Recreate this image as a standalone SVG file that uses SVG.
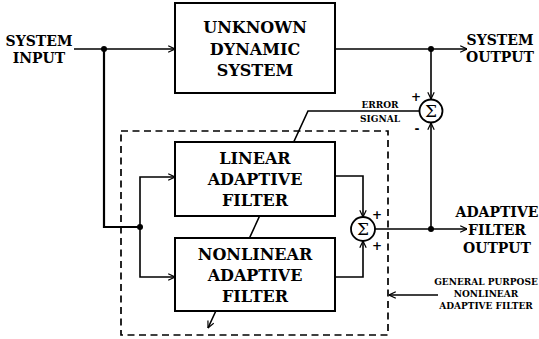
<svg xmlns="http://www.w3.org/2000/svg" width="539" height="339" viewBox="0 0 539 339">
<style>
.box{fill:#fff;stroke:#000;stroke-width:2}
.ln{fill:none;stroke:#000;stroke-width:1.6}
.thk{fill:none;stroke:#000;stroke-width:2.2}
.t{font-family:"DejaVu Serif",serif;font-weight:bold;fill:#000;text-anchor:middle}
.b16{font-size:16px}
.b14{font-size:14px}
.s9{font-size:9px}
.sig{font-family:"DejaVu Serif",serif;font-size:17px;fill:#000;text-anchor:middle}
.pm{font-family:"DejaVu Sans",sans-serif;font-weight:bold;font-size:12px;fill:#000;text-anchor:middle}
.dash{fill:none;stroke:#000;stroke-width:1.7;stroke-dasharray:7 4.5}
</style>
<defs>
<marker id="ar" viewBox="0 0 10 10" refX="9.5" refY="5" markerWidth="8" markerHeight="8" markerUnits="userSpaceOnUse" orient="auto">
<path d="M1,1 L9.5,5 L1,9" fill="none" stroke="#000" stroke-width="1.5"/>
</marker>
</defs>
<rect class="dash" x="121" y="131" width="267" height="204"/>
<g id="connectors">
<path class="ln" d="M74,49 H175" marker-end="url(#ar)"/>
<path class="thk" d="M104,49 V227 H140"/>
<path class="ln" d="M140,227 V177 H175" marker-end="url(#ar)"/>
<path class="ln" d="M140,227 V277 H175" marker-end="url(#ar)"/>
<path class="ln" d="M335,49 H467" marker-end="url(#ar)"/>
<path class="ln" d="M431,49 V99" marker-end="url(#ar)"/>
<path class="ln" d="M431,229 V123" marker-end="url(#ar)"/>
<path class="ln" d="M419,111 H308 L208,328" marker-end="url(#ar)"/>
<path class="ln" d="M335,176 H363 V217" marker-end="url(#ar)"/>
<path class="ln" d="M335,277 H363 V241" marker-end="url(#ar)"/>
<path class="ln" d="M375,229 H467" marker-end="url(#ar)"/>
<path class="ln" d="M438,295 H389" marker-end="url(#ar)"/>
<circle cx="104" cy="49" r="3"/>
<circle cx="140" cy="227" r="3"/>
<circle cx="431" cy="49" r="3"/>
<circle cx="431" cy="229" r="3"/>
</g>
<g id="unknown">
<rect class="box" x="175" y="3" width="160" height="90"/>
<text class="t b16" x="255" y="33">UNKNOWN</text>
<text class="t b16" x="255" y="55">DYNAMIC</text>
<text class="t b16" x="255" y="76">SYSTEM</text>
</g>
<g id="linear">
<rect class="box" x="175" y="142" width="160" height="74"/>
<text class="t b16" x="255" y="164">LINEAR</text>
<text class="t b16" x="255" y="185">ADAPTIVE</text>
<text class="t b16" x="255" y="206">FILTER</text>
</g>
<g id="nonlinear">
<rect class="box" x="175" y="238" width="160" height="73"/>
<text class="t b16" x="255" y="260">NONLINEAR</text>
<text class="t b16" x="255" y="281">ADAPTIVE</text>
<text class="t b16" x="255" y="302">FILTER</text>
</g>
<g id="sum1">
<circle cx="431" cy="111" r="11.5" fill="#fff" stroke="#000" stroke-width="1.8"/>
<text class="sig" x="431" y="117">Σ</text>
<text class="pm" x="416" y="101">+</text>
<text class="pm" x="417" y="133">-</text>
</g>
<g id="sum2">
<circle cx="363" cy="229" r="12" fill="#fff" stroke="#000" stroke-width="1.8"/>
<text class="sig" x="363" y="235">Σ</text>
<text class="pm" x="377" y="219">+</text>
<text class="pm" x="377" y="250">+</text>
</g>
<g id="labels">
<text class="t b14" x="39" y="46">SYSTEM</text>
<text class="t b14" x="39" y="63">INPUT</text>
<text class="t b14" x="500" y="45">SYSTEM</text>
<text class="t b14" x="500" y="62">OUTPUT</text>
<text class="t s9" x="380" y="108">ERROR</text>
<text class="t s9" x="380" y="122">SIGNAL</text>
<text class="t b14" x="497" y="217">ADAPTIVE</text>
<text class="t b14" x="497" y="235">FILTER</text>
<text class="t b14" x="497" y="253">OUTPUT</text>
<text class="t s9" x="486" y="285">GENERAL PURPOSE</text>
<text class="t s9" x="486" y="297">NONLINEAR</text>
<text class="t s9" x="486" y="309">ADAPTIVE FILTER</text>
</g>
</svg>
